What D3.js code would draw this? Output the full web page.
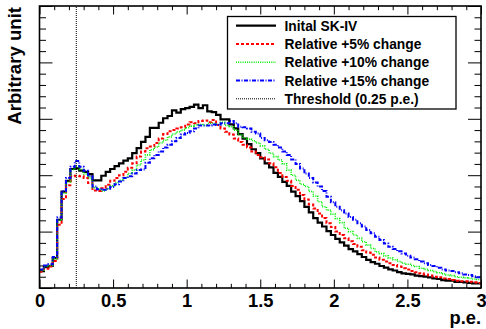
<!DOCTYPE html>
<html><head><meta charset="utf-8">
<script src="https://cdn.jsdelivr.net/npm/d3@7"></script>
<style>
body{margin:0;background:#fff}
svg{display:block}
text{font-family:"Liberation Sans",Arial,Helvetica,sans-serif;font-weight:bold;fill:#000}
</style>
</head><body>
<svg id="c" width="486" height="329"></svg>
<script>
// ---- data ----
const xMin = 0, xMax = 3, nBins = 100;
const xMajorTicks = [0, 0.5, 1, 1.5, 2, 2.5, 3];
const xTickLabels = ["0", "0.5", "1", "1.5", "2", "2.5", "3"];
const threshold = 0.25;

const initialSK4 = [0.30,0.37,0.39,0.53,1.21,1.71,1.90,2.11,2.12,2.08,
 2.06,2.02,1.91,1.91,1.99,2.06,2.11,2.16,2.21,2.26,
 2.30,2.39,2.48,2.59,2.68,2.84,2.84,2.93,3.01,3.05,
 3.15,3.11,3.17,3.19,3.21,3.25,3.19,3.24,3.13,3.12,
 3.07,2.99,2.99,2.90,2.83,2.73,2.65,2.55,2.46,2.39,
 2.30,2.21,2.14,2.04,1.97,1.88,1.81,1.71,1.63,1.54,
 1.44,1.34,1.24,1.16,1.09,1.01,0.94,0.87,0.81,0.75,
 0.69,0.65,0.60,0.55,0.50,0.46,0.43,0.39,0.36,0.33,
 0.31,0.28,0.26,0.25,0.24,0.22,0.21,0.20,0.19,0.17,
 0.16,0.14,0.13,0.13,0.11,0.11,0.10,0.09,0.08,0.08];

const relative5 = [0.29,0.34,0.38,0.48,1.12,1.58,1.82,1.98,1.99,1.98,
 1.95,1.86,1.73,1.72,1.77,1.83,1.90,1.95,2.00,2.06,
 2.13,2.21,2.33,2.42,2.48,2.51,2.57,2.65,2.73,2.78,
 2.80,2.83,2.85,2.90,2.94,2.92,2.96,2.97,2.94,2.98,
 2.89,2.83,2.77,2.72,2.65,2.59,2.54,2.49,2.42,2.36,
 2.32,2.28,2.21,2.14,2.04,1.97,1.90,1.81,1.74,1.65,
 1.57,1.48,1.41,1.32,1.24,1.15,1.08,1.00,0.94,0.88,
 0.83,0.78,0.73,0.67,0.63,0.59,0.54,0.50,0.47,0.44,
 0.41,0.38,0.35,0.33,0.30,0.28,0.26,0.24,0.22,0.20,
 0.19,0.17,0.16,0.14,0.13,0.12,0.12,0.11,0.10,0.09];

const relative10 = [0.31,0.38,0.40,0.52,1.20,1.68,1.88,2.10,2.16,2.10,
 2.02,1.95,1.78,1.75,1.72,1.76,1.81,1.87,1.91,1.96,
 2.03,2.09,2.18,2.27,2.36,2.45,2.50,2.57,2.62,2.68,
 2.73,2.77,2.80,2.84,2.87,2.89,2.90,2.88,2.92,2.92,
 2.90,2.94,2.88,2.86,2.80,2.72,2.66,2.64,2.61,2.57,
 2.52,2.46,2.39,2.33,2.27,2.20,2.09,2.00,1.91,1.84,
 1.80,1.71,1.63,1.53,1.44,1.38,1.31,1.23,1.16,1.06,
 1.00,0.94,0.88,0.82,0.76,0.70,0.64,0.61,0.57,0.53,
 0.50,0.47,0.44,0.42,0.40,0.38,0.35,0.33,0.31,0.29,
 0.27,0.25,0.23,0.22,0.20,0.19,0.18,0.17,0.16,0.15];

const relative15 = [0.33,0.40,0.42,0.55,1.25,1.72,1.95,2.15,2.25,2.15,
 2.08,1.98,1.80,1.75,1.74,1.76,1.79,1.84,1.89,1.95,
 1.98,2.03,2.09,2.10,2.22,2.30,2.36,2.42,2.49,2.54,
 2.60,2.66,2.72,2.75,2.78,2.83,2.88,2.88,2.88,2.90,
 2.89,2.92,2.92,2.96,2.92,2.86,2.85,2.83,2.77,2.74,
 2.66,2.62,2.59,2.54,2.49,2.42,2.36,2.28,2.20,2.12,
 2.03,1.95,1.87,1.80,1.72,1.62,1.52,1.44,1.38,1.32,
 1.26,1.21,1.15,1.09,1.03,0.97,0.91,0.85,0.79,0.73,
 0.69,0.65,0.61,0.57,0.54,0.51,0.47,0.44,0.41,0.39,
 0.36,0.33,0.31,0.30,0.28,0.26,0.24,0.23,0.21,0.19];

const seriesNames = ["Inital SK-IV", "Relative +5% change", "Relative +10% change", "Relative +15% change"];
const thresholdLabel = "Threshold (0.25 p.e.)";
const xTitle = "p.e.";
const yTitle = "Arbitrary unit";

// ---- layout / style ----
const svg = d3.select("#c");
const L = 39.5, R = 481, T = 6, B = 288;
const x = d3.scaleLinear().domain([xMin, xMax]).range([L, R]);
const y = d3.scaleLinear().domain([0, 5]).range([B, T]);

const styles = [
  {color: "#000000", width: 2.2, dash: null},
  {color: "#ff0000", width: 2, dash: "3,2"},
  {color: "#00f000", width: 1.6, dash: "1,1.2"},
  {color: "#0000ff", width: 2, dash: "4,1.5,1,1.5"}
];
const series = [initialSK4, relative5, relative10, relative15];

svg.append("defs").append("clipPath").attr("id", "clip")
  .append("rect").attr("x", L).attr("y", T).attr("width", R - L).attr("height", B - T);

// ticks
const minorX = d3.range(0, 31).map(i => i / 10).filter(v => Math.abs(v * 2 - Math.round(v * 2)) > 1e-6);
const minorY = d3.range(0, 26).map(i => i / 5).filter(v => Math.abs(v - Math.round(v)) > 1e-6);
const majorY = [0, 1, 2, 3, 4, 5];

function axisG(axis, tx, ty) {
  const g = svg.append("g").attr("transform", `translate(${tx},${ty})`).call(axis);
  g.select(".domain").remove();
  g.selectAll("line").attr("stroke", "#000").attr("stroke-width", 1);
  return g;
}
// bottom
const bMajor = axisG(d3.axisBottom(x).tickValues(xMajorTicks).tickSize(-8.5).tickPadding(6)
  .tickFormat((d, i) => xTickLabels[i]), 0, B);
bMajor.selectAll("text").attr("font-size", 18.3).attr("font-family", '"Liberation Sans",Arial,sans-serif').attr("font-weight", "bold").attr("fill", "#000");
axisG(d3.axisBottom(x).tickValues(minorX).tickSize(-4.2).tickFormat(""), 0, B);
// top
axisG(d3.axisTop(x).tickValues(xMajorTicks).tickSize(-8.5).tickFormat(""), 0, T);
axisG(d3.axisTop(x).tickValues(minorX).tickSize(-4.2).tickFormat(""), 0, T);
// left
axisG(d3.axisLeft(y).tickValues(majorY).tickSize(-13).tickFormat(""), L, 0);
axisG(d3.axisLeft(y).tickValues(minorY).tickSize(-6.5).tickFormat(""), L, 0);
// right
axisG(d3.axisRight(y).tickValues(majorY).tickSize(-13).tickFormat(""), R, 0);
axisG(d3.axisRight(y).tickValues(minorY).tickSize(-6.5).tickFormat(""), R, 0);

// histograms
const binW = (xMax - xMin) / nBins;
const line = d3.line().x(d => x(d[0])).y(d => y(d[1])).curve(d3.curveStepAfter);
const plot = svg.append("g").attr("clip-path", "url(#clip)");
series.forEach((vals, k) => {
  const pts = vals.map((v, i) => [xMin + i * binW, v]);
  pts.push([xMax, vals[vals.length - 1]]);
  plot.append("path").attr("d", line(pts)).attr("fill", "none")
    .attr("stroke", styles[k].color).attr("stroke-width", styles[k].width)
    .attr("stroke-dasharray", styles[k].dash).attr("stroke-linejoin", "miter");
});
// threshold
plot.append("line").attr("x1", x(threshold)).attr("x2", x(threshold))
  .attr("y1", y(0)).attr("y2", y(5)).attr("stroke", "#000").attr("stroke-width", 1)
  .attr("stroke-dasharray", "1,1");

// frame
svg.append("rect").attr("x", L).attr("y", T).attr("width", R - L).attr("height", B - T)
  .attr("fill", "none").attr("stroke", "#000").attr("stroke-width", 1.6);

// legend
const lg = svg.append("g");
lg.append("rect").attr("x", 227.5).attr("y", 16.5).attr("width", 228.5).attr("height", 92.5)
  .attr("fill", "#fff").attr("stroke", "#000").attr("stroke-width", 1.3);
const legendItems = seriesNames.map((n, k) => ({name: n, st: styles[k]}))
  .concat([{name: thresholdLabel, st: {color: "#000", width: 1, dash: "1,1"}}]);
legendItems.forEach((it, i) => {
  const cy = 25.6 + i * 18.3;
  lg.append("line").attr("x1", 236).attr("x2", 276).attr("y1", cy).attr("y2", cy)
    .attr("stroke", it.st.color).attr("stroke-width", it.st.width).attr("stroke-dasharray", it.st.dash);
  lg.append("text").attr("x", 284.5).attr("y", cy + 5).attr("font-size", 13.8).text(it.name);
});

// titles
svg.append("text").attr("x", R).attr("y", 324).attr("text-anchor", "end").attr("font-size", 18.3).text(xTitle);
svg.append("text").attr("transform", `translate(20.5,${T + 1}) rotate(-90)`).attr("text-anchor", "end")
  .attr("font-size", 18.6).text(yTitle);
</script>
</body></html>
